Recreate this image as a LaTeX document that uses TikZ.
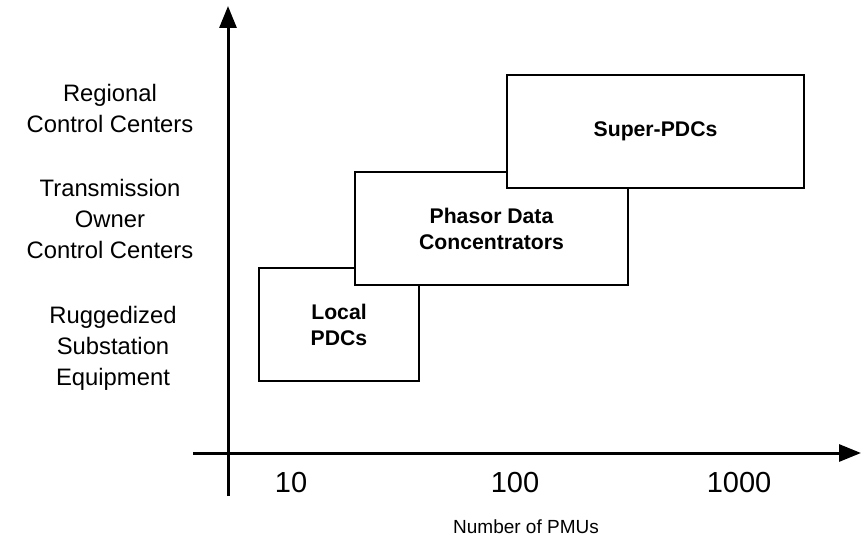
\documentclass[tikz,border=0pt]{standalone}
\usepackage{fontspec}
\setmainfont{Liberation Sans}
\usetikzlibrary{arrows.meta}
\tikzset{
  axisLine/.style={line width=3pt, -{Triangle[length=22pt,width=17pt]}},
  level/.style={font=\fontsize{23.8}{31}\selectfont, align=center},
  tick/.style={font=\fontsize{29}{34}\selectfont},
  axLab/.style={font=\fontsize{19}{23}\selectfont},
  pdcBox/.style={draw, fill=white, line width=1.5pt, minimum height=113pt,
    align=center, font=\bfseries\fontsize{21.2}{26}\selectfont, inner sep=0pt}
}
\begin{document}
\begin{tikzpicture}[x=1pt,y=-1pt]
\useasboundingbox (0,0) rectangle (861,548);
\coordinate (O1) at (228,496);
\coordinate (O2) at (193,453);
\coordinate (Ytip) at (228,6);
\coordinate (Xtip) at (861,453);
\draw[axisLine] (O2)--(Xtip);
\draw[axisLine] (O1)--(Ytip);
\node[pdcBox, minimum width=160pt] (local) at (339,324.5) {Local\\PDCs};
\node[pdcBox, minimum width=273pt] (pdc) at (491.5,228.5) {Phasor Data\\Concentrators};
\node[pdcBox, minimum width=297pt] (super) at (655.5,131.5) {Super-PDCs};
\node[level] (regional) at (110,108) {Regional\\Control Centers};
\node[level] (owner) at (110,219) {Transmission\\Owner\\Control Centers};
\node[level] (substation) at (113,348) {Ruggedized\\Substation\\Equipment};
\node[tick] (t10) at (291,483) {10};
\node[tick] (t100) at (515,483) {100};
\node[tick] (t1000) at (739,483) {1000};
\node[axLab] (pmus) at (526,527) {Number of PMUs};
\end{tikzpicture}
\end{document}
